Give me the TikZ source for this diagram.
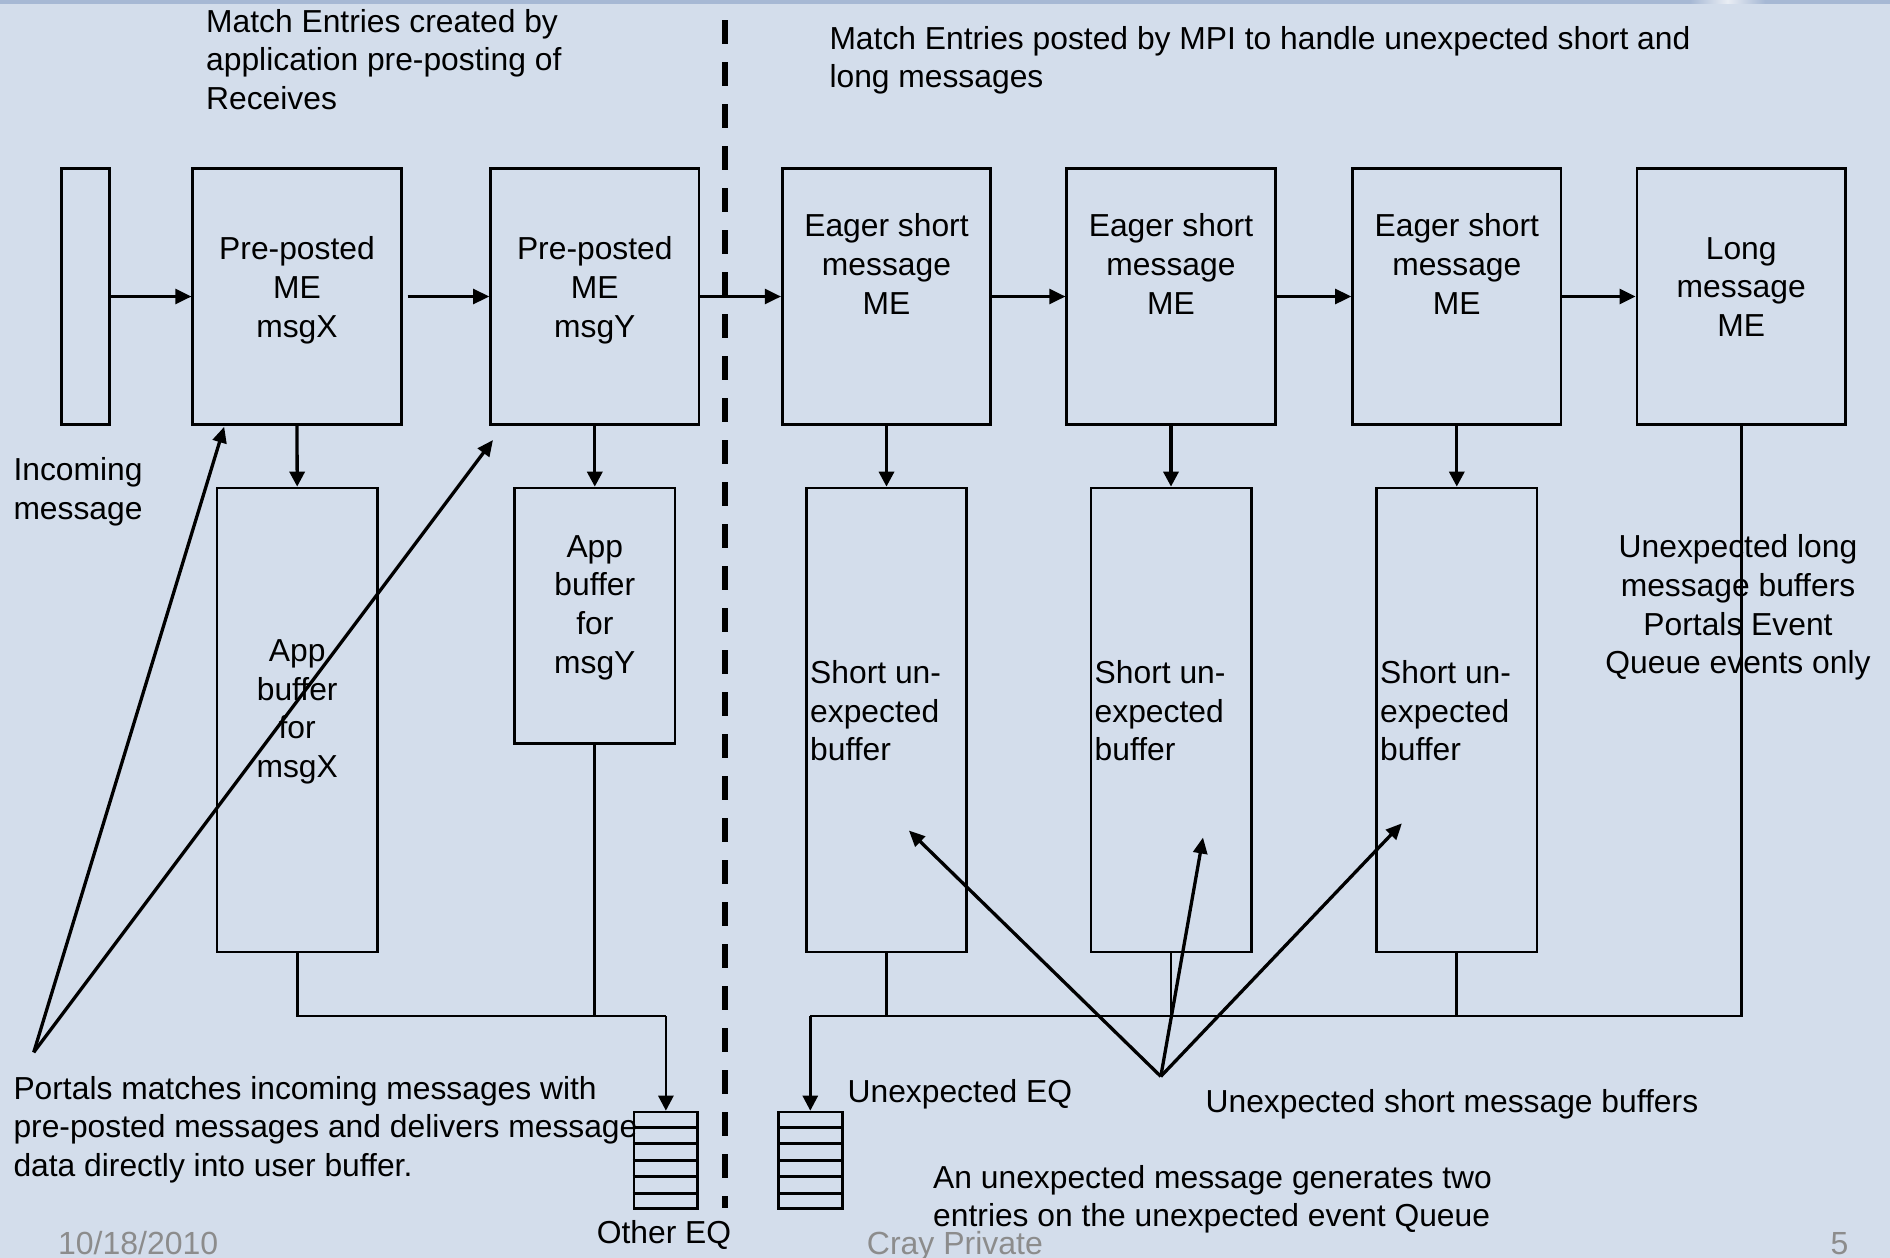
\documentclass[tikz,border=0pt]{standalone}
\usepackage{fontspec}
\setmainfont{Liberation Sans}
\usetikzlibrary{arrows.meta,calc}
\definecolor{bg}{RGB}{211,221,235}
\definecolor{topbar}{RGB}{166,184,212}
\definecolor{foot}{RGB}{140,140,140}
\begin{document}
\begin{tikzpicture}[x=1pt,y=-1pt,
  txt/.style={font=\fontsize{31.8}{38.6}\selectfont, inner sep=0pt, text=black},
  foottxt/.style={font=\fontsize{32}{38}\selectfont, inner sep=0pt, text=foot},
  box/.style={draw=black, line width=2.7pt, inner sep=0pt},
  mebox/.style={box, minimum width=208.5pt, minimum height=255.5pt},
  bufbox/.style={box, minimum width=160.3pt},
  eqbox/.style={box, minimum width=63.7pt, minimum height=96.3pt},
  conn/.style={line width=2.7pt},
  harr/.style={line width=2.6pt, -{Triangle[length=16pt,width=15pt]}},
  darr/.style={line width=3.3pt, -{Triangle[length=15pt,width=15pt]}},
  diag/.style={line width=3.3pt, -{Triangle[length=16pt,width=14pt]}},
  divider/.style={line width=6pt, dash pattern=on 24pt off 18pt}
]
% background
\fill[bg] (0,0) rectangle (1890,1258);
\fill[topbar] (0,0) rectangle (1890,3.5);
\shade[left color=topbar, right color=topbar, middle color=white!75!topbar] (1690,0) rectangle (1765,3.5);
\useasboundingbox (0,0) rectangle (1890,1258);

% divider
\coordinate (dv1) at (725.3,20);
\coordinate (dv2) at (725.3,1207.5);
\draw[divider] (dv1) -- (dv2);

% top row boxes
\node[box, minimum width=48.2pt, minimum height=255.5pt] (inc) at (85.6,296.5) {};
\node[mebox] (mex) at (297,296.5) {};
\node[mebox] (mey) at (594.8,296.5) {};
\node[mebox] (e1) at (886.5,296.5) {};
\node[mebox] (e2) at (1171,296.5) {};
\node[mebox] (e3) at (1456.8,296.5) {};
\node[mebox] (lng) at (1741.2,296.5) {};

% buffers
\node[bufbox, minimum height=464pt] (bufx) at (297.2,720) {};
\node[bufbox, minimum height=255.7pt] (bufy) at (594.8,615.9) {};
\node[bufbox, minimum height=464pt] (sb1) at (886.5,720) {};
\node[bufbox, minimum height=464pt] (sb2) at (1171,720) {};
\node[bufbox, minimum height=464pt] (sb3) at (1456.8,720) {};

% event queues
\node[eqbox] (oeq) at (665.9,1160.2) {};
\node[eqbox] (ueq) at (810.3,1160.2) {};
\foreach \q in {oeq,ueq}{
  \foreach \k in {1,...,5}{
    \draw[conn] ($(\q.north west)!\k/6!(\q.south west)$) -- ($(\q.north east)!\k/6!(\q.south east)$);
  }
}

% horizontal chain
\draw[harr] (inc.east) -- (mex.west);
\draw[harr, shorten <=5pt] (mex.east) -- (mey.west);
\draw[harr] (mey.east) -- (e1.west);
\draw[harr] (e1.east) -- (e2.west);
\draw[harr] (e2.east) -- (e3.west);
\draw[harr] (e3.east) -- (lng.west);

% down arrows
\draw[darr] (mex.south) -- (bufx.north);
\draw[darr] (mey.south) -- (bufy.north);
\draw[darr] (e1.south) -- (sb1.north);
\draw[darr] (e2.south) -- (sb2.north);
\draw[darr] (e3.south) -- (sb3.north);

% buses
\coordinate (lbus) at (665.9,1016);
\coordinate (rbus) at (810.3,1016);
\draw[conn] (bufx.south) |- (lbus);
\draw[conn] (bufy.south) -- (bufy.south |- lbus);
\draw[darr, line width=2.7pt] (lbus) -- (oeq.north);
\draw[conn] (lng.south) |- (rbus);
\draw[conn] (sb1.south) -- (sb1.south |- rbus);
\draw[conn] (sb2.south) -- (sb2.south |- rbus);
\draw[conn] (sb3.south) -- (sb3.south |- rbus);
\draw[darr, line width=2.7pt] (rbus) -- (ueq.north);

% diagonal arrows
\coordinate (pL) at (33.75,1052.3);
\coordinate (tA) at (224.2,426.7);
\coordinate (tB) at (493,440);
\coordinate (pR) at (1160.8,1076.4);
\coordinate (tC) at (908.9,830.5);
\coordinate (tD) at (1203,837.5);
\coordinate (tE) at (1401.9,823.3);
\draw[diag] (pL) -- (tA);
\draw[diag] (pL) -- (tB);
\draw[diag] (pR) -- (tC);
\draw[diag] (pR) -- (tD);
\draw[diag] (pR) -- (tE);

% texts
\node[txt, anchor=west, align=left] (ttl) at (206,59.3) {Match Entries created by\\application pre-posting of\\Receives};
\node[txt, anchor=west, align=left] (ttr) at (829.3,60.2) {Match Entries posted by MPI to handle unexpected short and\\long messages};
\node[txt, anchor=west, align=left] (tinc) at (13.3,491.7) {Incoming\\message};
\node[txt, align=center] (tmex) at (297,290.2) {Pre-posted\\ME\\msgX};
\node[txt, align=center] (tmey) at (594.8,290.2) {Pre-posted\\ME\\msgY};
\node[txt, align=center] (te1) at (886.5,264) {Eager short\\message\\ME};
\node[txt, align=center] (te2) at (1171,264) {Eager short\\message\\ME};
\node[txt, align=center] (te3) at (1456.8,264) {Eager short\\message\\ME};
\node[txt, align=center] (tlng) at (1741.2,286.9) {Long\\message\\ME};
\node[txt, align=center] (tbx) at (297.2,711.7) {App\\buffer\\for\\msgX};
\node[txt, align=center] (tby) at (594.8,607.5) {App\\buffer\\for\\msgY};
\node[txt, anchor=west, align=left] (ts1) at (810,710.8) {Short un-\\expected\\buffer};
\node[txt, anchor=west, align=left] (ts2) at (1094.5,710.8) {Short un-\\expected\\buffer};
\node[txt, anchor=west, align=left] (ts3) at (1380,710.8) {Short un-\\expected\\buffer};
\node[txt, align=center] (tul) at (1738,607.5) {Unexpected long\\message buffers\\Portals Event\\Queue events only};
\node[txt, anchor=west, align=left] (tpm) at (13.3,1129.4) {Portals matches incoming messages with\\pre-posted messages and delivers message\\data directly into user buffer.};
\node[txt, anchor=base west] (tueq) at (847.4,1102.5) {Unexpected EQ};
\node[txt, anchor=base west] (tusb) at (1205.4,1112.3) {Unexpected short message buffers};
\node[txt, anchor=west, align=left] (tgen) at (933,1199.4) {An unexpected message generates two\\entries on the unexpected event Queue};
\node[txt, anchor=base] (toeq) at (664,1243.5) {Other EQ};

% footer
\node[foottxt, anchor=base west] (fdate) at (57.9,1254) {10/18/2010};
\node[foottxt, anchor=base west] (fcray) at (866.7,1254) {Cray Private};
\node[foottxt, anchor=base] (fnum) at (1839.5,1254) {5};
\end{tikzpicture}
\end{document}
